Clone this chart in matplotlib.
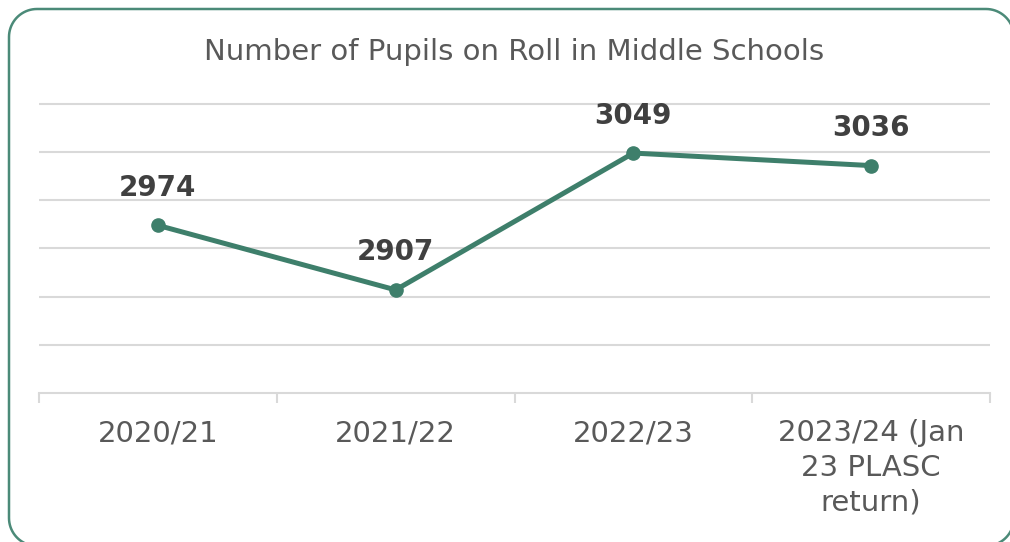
import numpy as np
import matplotlib
matplotlib.use("Agg")
import matplotlib.pyplot as plt
from matplotlib.lines import Line2D

# pupils on roll, middle schools
years = ["2020/21", "2021/22", "2022/23", "2023/24 (Jan\n23 PLASC\nreturn)"]
pupils = [2974, 2907, 3049, 3036]

line_col = "#3e7f6b"
text_col = "#595959"
grid_col = "#d9d9d9"

plt.rcParams["font.family"] = ["DejaVu Sans"]

W, H = 1010, 542
fig = plt.figure(figsize=(W / 100, H / 100), dpi=100)
ax = fig.add_axes((39 / W, 1 - 393 / H, 951 / W, 291 / H))

x = range(len(years))
ax.plot(x, pupils, color=line_col, lw=3.6, marker="o", ms=9.5,
        solid_capstyle="round", zorder=3)

for i, v in enumerate(pupils):
    ax.annotate(str(v), (i, v), xytext=(0, 27), textcoords="offset points",
                ha="center", va="center", fontsize=20, fontweight="bold",
                color="#404040")

ax.set_xlim(-0.5, len(years) - 0.5)
ax.set_ylim(2800, 3102)
ax.set_yticks(range(2850, 3101, 50))
ax.yaxis.grid(True, color=grid_col, lw=1.5)
ax.tick_params(axis="y", left=False, labelleft=False)

ax.set_xticks(x)
ax.set_xticklabels(years, fontsize=21, color=text_col, linespacing=1.3)
ax.set_xticks([i - 0.5 for i in range(len(years) + 1)], minor=True)
ax.tick_params(axis="x", which="major", length=0, pad=19)
ax.tick_params(axis="x", which="minor", length=7, width=1.5, color=grid_col)

for s in ["top", "left", "right"]:
    ax.spines[s].set_visible(False)
ax.spines["bottom"].set_color(grid_col)
ax.spines["bottom"].set_linewidth(1.5)

fig.text(514 / W, 1 - 52 / H, "Number of Pupils on Roll in Middle Schools",
         ha="center", va="center", fontsize=21, color=text_col)


def rounded_frame(x0, y0, x1, y1, r, n=20):
    """Outline of a rounded rectangle in pixels, as plain line segments."""
    xs, ys = [], []
    corners = [(x1 - r, y1 - r, 0), (x0 + r, y1 - r, 90),
               (x0 + r, y0 + r, 180), (x1 - r, y0 + r, 270)]
    for cx, cy, a0 in corners:
        t = np.radians(np.linspace(a0, a0 + 90, n))
        xs.extend(cx + r * np.cos(t))
        ys.extend(cy + r * np.sin(t))
    xs.append(xs[0])
    ys.append(ys[0])
    return np.array(xs) / W, np.array(ys) / H


fx, fy = rounded_frame(9, -4, 1014, 533, 28)
fig.add_artist(Line2D(fx, fy, transform=fig.transFigure, color="#4b8a78",
                      lw=1.8, solid_joinstyle="round"))

fig.savefig("out.png", dpi=100, facecolor="white")
